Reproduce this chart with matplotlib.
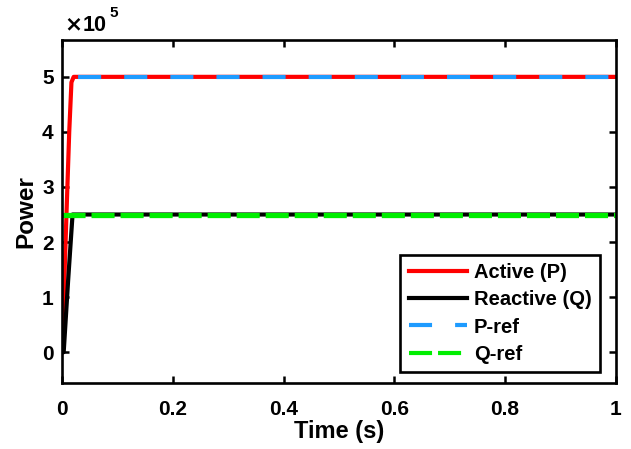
import matplotlib
matplotlib.use("Agg")
import matplotlib.pyplot as plt
from matplotlib.lines import Line2D

plt.rcParams['font.family'] = ['Liberation Sans', 'DejaVu Sans']
plt.rcParams['font.weight'] = 'bold'
plt.rcParams['lines.scale_dashes'] = False

# Measured active / reactive power during start-up (W, VAr)
t_p = [0.0, 0.008, 0.013, 0.017, 0.021, 1.0]
p_active = [0.0, 2.5e5, 4.0e5, 4.9e5, 5.0e5, 5.0e5]
t_q = [0.0, 0.003, 0.011, 0.019, 1.0]
q_reactive = [0.0, 0.0, 1.3e5, 2.5e5, 2.5e5]

# Reference set-points
t_ref = [0.0, 1.0]
p_ref = [5.0e5, 5.0e5]
q_ref = [2.5e5, 2.5e5]

x_ticks = [0, 0.2, 0.4, 0.6, 0.8, 1.0]
x_labels = ['0', '0.2', '0.4', '0.6', '0.8', '1']
y_ticks = [0, 1e5, 2e5, 3e5, 4e5, 5e5]
y_labels = ['0', '1', '2', '3', '4', '5']

fig = plt.figure(figsize=(6.31, 4.49), dpi=100)
ax = fig.add_axes([0.0983, 0.147, 0.8777, 0.764])

red = '#ff0000'
blue = '#1e9bff'
green = '#00ee00'
lw = 3.0

ax.plot(t_p, p_active, color=red, lw=lw, solid_joinstyle='round')
ax.plot(t_q, q_reactive, color='black', lw=lw, solid_joinstyle='round')
ax.plot(t_ref, p_ref, color=blue, lw=lw, linestyle=(21.6, (16.6, 16.6)),
        dash_capstyle='butt')
ax.plot(t_ref, q_ref, color=green, lw=lw + 0.8, linestyle=(0, (16.6, 4.3)),
        dash_capstyle='butt')

ax.set_xlim(0, 1)
ax.set_ylim(-0.56e5, 5.67e5)
ax.set_xticks(x_ticks)
ax.set_xticklabels(x_labels)
ax.set_yticks(y_ticks)
ax.set_yticklabels(y_labels)

ax.tick_params(direction='in', length=5, width=1.8, labelsize=15,
               top=True, right=True)
ax.tick_params(axis='x', pad=12)
ax.tick_params(axis='y', pad=6)
for lab in ax.get_xticklabels() + ax.get_yticklabels():
    lab.set_fontweight('bold')
for sp in ax.spines.values():
    sp.set_linewidth(1.9)

ax.set_xlabel('Time (s)', fontsize=17, fontweight='bold', labelpad=1)
ax.set_ylabel('Power', fontsize=17.5, fontweight='bold', labelpad=3)

ax.text(0.004, 1.012, r'$\times$10', transform=ax.transAxes, fontsize=15.5,
        fontweight='bold', ha='left', va='bottom')
ax.text(0.086, 1.058, '5', transform=ax.transAxes, fontsize=11,
        fontweight='bold', ha='left', va='bottom')

handles = [
    Line2D([], [], color=red, lw=lw),
    Line2D([], [], color='black', lw=lw),
    Line2D([], [], color=blue, lw=lw, linestyle=(0, (16.6, 16.6)),
           dash_capstyle='butt'),
    Line2D([], [], color=green, lw=lw, linestyle=(0, (16.6, 4.3)),
           dash_capstyle='butt'),
]
leg = ax.legend(handles, ['Active (P)', 'Reactive (Q)', 'P-ref', 'Q-ref'],
                loc='lower right', bbox_to_anchor=(0.971, 0.032),
                fancybox=False, edgecolor='black', framealpha=1,
                prop={'weight': 'bold', 'size': 14.5},
                handlelength=2.9, handletextpad=0.35, labelspacing=0.42,
                borderpad=0.4, borderaxespad=0)
leg.get_frame().set_linewidth(1.9)

fig.savefig('out.png', dpi=100)
